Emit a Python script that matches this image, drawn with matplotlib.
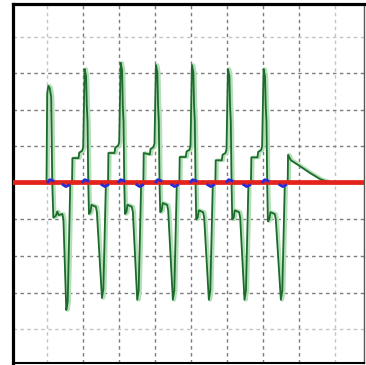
import matplotlib
matplotlib.use("Agg")
import matplotlib.pyplot as plt
import numpy as np

# Scope trace in divisions (x: 36 px/div, y: 36.5 px/div)
trace_x = [-0.94, -0.01, 0.01, 0.04, 0.08, 0.12, 0.15, 0.18, 0.25, 0.29, 0.33, 0.43, 0.46, 0.54, 0.58, 0.65,
           0.70, 0.71, 0.88, 0.90, 0.98, 1.01, 1.05, 1.09, 1.11, 1.13, 1.15, 1.17, 1.21, 1.24, 1.36, 1.39, 1.53, 1.57, 1.64,
           1.70, 1.71, 1.88, 1.90, 1.98, 2.01, 2.05, 2.09, 2.11, 2.13, 2.15, 2.17, 2.21, 2.24, 2.36, 2.39, 2.51, 2.55, 2.62,
           2.68, 2.69, 2.86, 2.88, 2.96, 2.99, 3.03, 3.07, 3.09, 3.11, 3.13, 3.15, 3.19, 3.22, 3.34, 3.37, 3.50, 3.54, 3.61,
           3.68, 3.69, 3.86, 3.88, 3.96, 3.99, 4.03, 4.07, 4.09, 4.11, 4.13, 4.15, 4.19, 4.22, 4.34, 4.37, 4.50, 4.54, 4.61,
           4.68, 4.69, 4.86, 4.88, 4.96, 4.99, 5.03, 5.07, 5.09, 5.11, 5.13, 5.15, 5.19, 5.22, 5.34, 5.37, 5.49, 5.53, 5.60,
           5.67, 5.68, 5.85, 5.87, 5.95, 5.98, 6.02, 6.06, 6.08, 6.10, 6.12, 6.14, 6.18, 6.21, 6.33, 6.36, 6.50, 6.54, 6.61,
           6.69, 6.70, 6.78, 7.00, 7.30, 7.60, 7.90, 8.90]
trace_y = [0, 0, 2.45, 2.66, 2.60, 2.35, 0, -0.95, -0.90, -0.78, -0.88, -0.85, -1.0, -3.48, -3.25, 0,
           0, 0.68, 0.68, 0.83, 0.88, 0.98, 3.12, 2.92, 2.1, 1.7, 0, -0.85, -0.80, -0.60, -0.65, -0.80, -3.15, -2.90, 0,
           0, 0.82, 0.82, 0.97, 1.02, 1.12, 3.29, 3.09, 2.1, 1.7, 0, -0.85, -0.80, -0.60, -0.65, -0.80, -3.20, -2.95, 0,
           0, 0.82, 0.78, 0.93, 0.98, 1.08, 3.23, 3.03, 2.1, 1.7, 0, -0.80, -0.75, -0.55, -0.60, -0.75, -3.20, -2.95, 0,
           0, 0.71, 0.71, 0.86, 0.91, 1.01, 3.23, 3.03, 2.1, 1.7, 0, -1.00, -0.95, -0.75, -0.80, -0.95, -3.20, -2.95, 0,
           0, 0.62, 0.62, 0.77, 0.82, 0.92, 3.12, 2.92, 2.1, 1.7, 0, -1.00, -0.95, -0.75, -0.80, -0.95, -3.20, -2.95, 0,
           0, 0.70, 0.70, 0.85, 0.90, 1.00, 3.12, 2.92, 2.1, 1.7, 0, -1.05, -1.00, -0.80, -0.85, -1.00, -3.20, -2.95, 0,
           0, 0.77, 0.62, 0.48, 0.28, 0.10, 0, 0]

# small blue marks around the zero line (start of each mark)
blue_up_x = [0.03, 1.00, 2.00, 3.03, 4.00, 5.00, 6.00]
blue_dn_x = [0.45, 1.53, 2.50, 3.47, 4.47, 5.47, 6.47]

fig = plt.figure(figsize=(3.66, 3.65), dpi=100)
ax = fig.add_axes([13 / 366, 2 / 365, 351 / 366, 359 / 365])
ax.set_xlim(-0.94, 8.81)
ax.set_ylim(-4.93, 4.90)

# graticule: outer lines lighter
for gx in range(0, 9):
    c = "#c4c4c4" if gx in (0, 8) else "#7c7c7c"
    ax.axvline(gx, color=c, lw=1.0, ls=(0, (2.5, 2.5)), zorder=1)
for gy in range(-4, 5):
    c = "#c4c4c4" if gy in (-4, 4) else "#7c7c7c"
    ax.axhline(gy, color=c, lw=1.0, ls=(0, (2.5, 2.5)), zorder=1)

tx = np.array(trace_x)
ax.plot(tx + 0.04, trace_y, color="#b3dfb8", lw=2.6, zorder=2)
ax.plot(trace_x, trace_y, color="#1d6b2c", lw=1.3, zorder=3)

ax.axhline(0.03, color="#e3231c", lw=3.4, zorder=4)

for bx in blue_up_x:
    ax.plot([bx, bx + 0.05, bx + 0.14], [0.03, 0.09, 0.06], color="#2b2bd6", lw=2.0, zorder=5)
for bx in blue_dn_x:
    ax.plot([bx, bx + 0.08, bx + 0.16], [-0.05, -0.1, -0.06], color="#2b2bd6", lw=2.0, zorder=5)

ax.set_xticks([])
ax.set_yticks([])
for s in ["left", "top"]:
    ax.spines[s].set_linewidth(2.3)
ax.spines["bottom"].set_linewidth(1.5)
ax.spines["right"].set_linewidth(1.0)
ax.spines["right"].set_color("#555555")

fig.savefig("out.png", dpi=100)
